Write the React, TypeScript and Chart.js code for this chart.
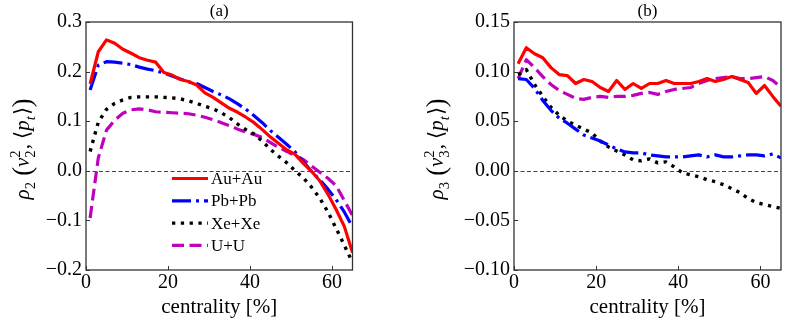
import React, { useEffect, useRef } from 'react';
import { Chart, registerables } from 'chart.js';

Chart.register(...registerables);

// ---------- data ----------
const centrality = [1, 3, 5, 7, 9, 11, 13, 15, 17, 19, 21, 23, 25, 27, 29, 31, 33, 35, 37, 39, 41, 43, 45, 47, 49, 51, 53, 55, 57, 59, 61, 63, 65];

const seriesLabels = ['Au+Au', 'Pb+Pb', 'Xe+Xe', 'U+U'];

// panel (a): rho2(v2^2, <pt>)
const rho2AuAu = [0.175, 0.240, 0.264, 0.257, 0.245, 0.237, 0.228, 0.223, 0.219, 0.198, 0.193, 0.184, 0.180, 0.173, 0.157, 0.148, 0.137, 0.126, 0.118, 0.108, 0.097, 0.083, 0.068, 0.055, 0.042, 0.033, 0.015, -0.001, -0.020, -0.047, -0.078, -0.112, -0.165];
const rho2PbPb = [0.163, 0.213, 0.220, 0.219, 0.217, 0.214, 0.209, 0.205, 0.202, 0.197, 0.191, 0.185, 0.179, 0.176, 0.168, 0.160, 0.153, 0.145, 0.135, 0.124, 0.111, 0.097, 0.081, 0.067, 0.053, 0.038, 0.018, -0.001, -0.018, -0.037, -0.058, -0.083, -0.113];
const rho2XeXe = [0.039, 0.098, 0.124, 0.136, 0.143, 0.148, 0.149, 0.149, 0.149, 0.148, 0.147, 0.145, 0.141, 0.136, 0.130, 0.125, 0.117, 0.107, 0.094, 0.083, 0.074, 0.060, 0.043, 0.029, 0.016, 0.000, -0.014, -0.033, -0.055, -0.083, -0.116, -0.150, -0.185];
const rho2UU = [-0.095, 0.026, 0.082, 0.102, 0.116, 0.123, 0.125, 0.123, 0.119, 0.118, 0.117, 0.116, 0.115, 0.112, 0.108, 0.103, 0.097, 0.091, 0.084, 0.078, 0.073, 0.067, 0.057, 0.047, 0.039, 0.030, 0.023, 0.010, -0.003, -0.015, -0.030, -0.060, -0.090];

// panel (b): rho3(v3^2, <pt>)
const rho3AuAu = [0.108, 0.124, 0.118, 0.114, 0.104, 0.097, 0.096, 0.088, 0.092, 0.090, 0.084, 0.080, 0.091, 0.082, 0.088, 0.083, 0.088, 0.088, 0.091, 0.088, 0.088, 0.088, 0.090, 0.093, 0.090, 0.092, 0.095, 0.092, 0.089, 0.078, 0.086, 0.075, 0.065];
const rho3PbPb = [0.093, 0.092, 0.083, 0.071, 0.061, 0.053, 0.048, 0.042, 0.036, 0.033, 0.030, 0.026, 0.022, 0.019, 0.018, 0.018, 0.016, 0.015, 0.014, 0.014, 0.014, 0.015, 0.016, 0.014, 0.016, 0.014, 0.014, 0.015, 0.016, 0.016, 0.015, 0.017, 0.013];
const rho3XeXe = [0.097, 0.102, 0.087, 0.075, 0.064, 0.056, 0.050, 0.046, 0.042, 0.038, 0.030, 0.024, 0.020, 0.016, 0.011, 0.010, 0.012, 0.008, 0.009, 0.004, -0.002, -0.004, -0.006, -0.009, -0.011, -0.014, -0.018, -0.022, -0.028, -0.032, -0.034, -0.036, -0.038];
const rho3UU = [0.093, 0.112, 0.104, 0.095, 0.087, 0.081, 0.077, 0.073, 0.072, 0.074, 0.075, 0.074, 0.075, 0.075, 0.076, 0.078, 0.079, 0.077, 0.080, 0.082, 0.083, 0.084, 0.088, 0.091, 0.093, 0.094, 0.095, 0.093, 0.093, 0.094, 0.095, 0.091, 0.084];

const xTicks = [0, 20, 40, 60];
const yTicksA = [-0.2, -0.1, 0.0, 0.1, 0.2, 0.3];
const yTicksB = [-0.10, -0.05, 0.0, 0.05, 0.10, 0.15];

// ---------- styles ----------
const FONT = '"Liberation Serif", "Times New Roman", serif';
const seriesStyles = [
  { color: '#ff0000', dash: [] as number[], width: 3.2 },
  { color: '#0000ff', dash: [19, 5, 3, 5], width: 3.2 },
  { color: '#000000', dash: [3.3, 5.5], width: 3.4 },
  { color: '#bf00bf', dash: [12, 5.5], width: 3.2 },
];

type Seg = { t?: string; it?: boolean; sub?: boolean; sup?: boolean; big?: boolean; stack?: [string, string] };

function fmt(v: number, d: number) {
  if (Math.abs(v) < 1e-9) v = 0;
  const s = Math.abs(v).toFixed(d);
  return v < 0 ? '\u2212' + s : s;
}

function drawRich(ctx: CanvasRenderingContext2D, segs: Seg[], cx: number, cy: number, size: number) {
  const f = (it: boolean | undefined, s: number) => `${it ? 'italic ' : ''}${s}px ${FONT}`;
  const small = size * 0.7;
  const widths = segs.map((s) => {
    if (s.stack) {
      ctx.font = f(false, small);
      return Math.max(ctx.measureText(s.stack[0]).width, ctx.measureText(s.stack[1]).width) + 1;
    }
    const sz = s.sub || s.sup ? small : s.big ? size * 1.25 : size;
    ctx.font = f(s.it, sz);
    return ctx.measureText(s.t || '').width + (s.sub ? 1 : 0);
  });
  const total = widths.reduce((a, b) => a + b, 0);
  ctx.save();
  ctx.translate(cx, cy);
  ctx.rotate(-Math.PI / 2);
  ctx.fillStyle = '#000';
  ctx.textBaseline = 'alphabetic';
  ctx.textAlign = 'left';
  let x = -total / 2;
  const base = size * 0.33;
  segs.forEach((s, i) => {
    if (s.stack) {
      ctx.font = f(false, small);
      ctx.fillText(s.stack[0], x, base - size * 0.42);
      ctx.fillText(s.stack[1], x, base + size * 0.27);
    } else if (s.sub) {
      ctx.font = f(s.it, small);
      ctx.fillText(s.t || '', x, base + size * 0.27);
    } else if (s.sup) {
      ctx.font = f(s.it, small);
      ctx.fillText(s.t || '', x, base - size * 0.42);
    } else if (s.big) {
      ctx.font = f(s.it, size * 1.25);
      ctx.fillText(s.t || '', x, base + size * 0.08);
    } else {
      ctx.font = f(s.it, size);
      ctx.fillText(s.t || '', x, base);
    }
    x += widths[i];
  });
  ctx.restore();
}

const titleA: Seg[] = [
  { t: '\u03c1', it: true }, { t: '2', sub: true }, { t: ' ' }, { t: '(', big: true }, { t: 'v', it: true },
  { stack: ['2', '2'] }, { t: ', \u27e8' }, { t: 'p', it: true }, { t: 't', it: true, sub: true }, { t: '\u27e9' }, { t: ')', big: true },
];
const titleB: Seg[] = [
  { t: '\u03c1', it: true }, { t: '3', sub: true }, { t: ' ' }, { t: '(', big: true }, { t: 'v', it: true },
  { stack: ['2', '3'] }, { t: ', \u27e8' }, { t: 'p', it: true }, { t: 't', it: true, sub: true }, { t: '\u27e9' }, { t: ')', big: true },
];

function makeChart(
  canvas: HTMLCanvasElement,
  series: number[][],
  yMin: number,
  yMax: number,
  yTicks: number[],
  decimals: number,
  yAxisWidth: number,
  padRight: number,
  panelLabel: string,
  yTitle: Seg[],
  yTitleX: number,
  showLegend: boolean,
) {
  const decor = {
    id: 'decor' + panelLabel,
    beforeDatasetsDraw(chart: any) {
      const { ctx, chartArea: a } = chart;
      const ys = chart.scales.y;
      const y0 = Math.round(ys.getPixelForValue(0)) + 0.5;
      ctx.save();
      ctx.strokeStyle = '#444';
      ctx.lineWidth = 1;
      ctx.setLineDash([4, 2.5]);
      ctx.beginPath();
      ctx.moveTo(a.left, y0);
      ctx.lineTo(a.right, y0);
      ctx.stroke();
      ctx.restore();
    },
    afterDraw(chart: any) {
      const { ctx, chartArea: a } = chart;
      const xs = chart.scales.x;
      const ys = chart.scales.y;
      ctx.save();
      ctx.strokeStyle = '#333';
      ctx.lineWidth = 1.3;
      ctx.setLineDash([]);
      ctx.strokeRect(a.left, a.top, a.right - a.left, a.bottom - a.top);
      ctx.lineWidth = 1;
      ctx.beginPath();
      xTicks.forEach((v) => {
        const px = Math.round(xs.getPixelForValue(v)) + 0.5;
        ctx.moveTo(px, a.bottom);
        ctx.lineTo(px, a.bottom - 4);
      });
      yTicks.forEach((v) => {
        const py = Math.round(ys.getPixelForValue(v)) + 0.5;
        ctx.moveTo(a.left, py);
        ctx.lineTo(a.left + 4, py);
      });
      ctx.stroke();
      // panel label
      ctx.fillStyle = '#000';
      ctx.font = `17px ${FONT}`;
      ctx.textAlign = 'center';
      ctx.textBaseline = 'middle';
      ctx.fillText(panelLabel, (a.left + a.right) / 2, 12);
      // y title
      drawRich(ctx, yTitle, yTitleX, (a.top + a.bottom) / 2 + 3, 21);
      // legend
      if (showLegend) {
        chart.data.datasets.forEach((ds: any, i: number) => {
          const y = 178.5 + 22.3 * i;
          ctx.strokeStyle = ds.borderColor;
          ctx.lineWidth = ds.borderWidth;
          ctx.setLineDash(ds.borderDash || []);
          ctx.lineCap = 'butt';
          ctx.beginPath();
          ctx.moveTo(172, y);
          ctx.lineTo(208, y);
          ctx.stroke();
          ctx.setLineDash([]);
          ctx.fillStyle = '#000';
          ctx.font = `17px ${FONT}`;
          ctx.textAlign = 'left';
          ctx.textBaseline = 'middle';
          ctx.fillText(ds.label, 211, y + 1);
        });
      }
      ctx.restore();
    },
  };

  return new Chart(canvas, {
    type: 'line',
    data: {
      datasets: series.map((arr, i) => ({
        label: seriesLabels[i],
        data: centrality.map((c, k) => ({ x: c, y: arr[k] })),
        borderColor: seriesStyles[i].color,
        backgroundColor: seriesStyles[i].color,
        borderWidth: seriesStyles[i].width,
        borderDash: seriesStyles[i].dash,
        borderCapStyle: 'butt',
        borderJoinStyle: 'round',
        pointRadius: 0,
        tension: 0,
        fill: false,
      })),
    },
    options: {
      responsive: false,
      animation: false,
      devicePixelRatio: 1,
      layout: { padding: { left: 0, top: 22, right: padRight, bottom: 0 } },
      plugins: { legend: { display: false }, tooltip: { enabled: false }, title: { display: false } },
      scales: {
        x: {
          type: 'linear',
          min: 0,
          max: 65,
          afterBuildTicks: (s: any) => { s.ticks = xTicks.map((v) => ({ value: v })); },
          afterFit: (s: any) => { s.height = 55; },
          grid: { display: false, drawTicks: false },
          border: { display: false },
          ticks: {
            color: '#000',
            font: { family: FONT, size: 20 },
            padding: 1,
            maxRotation: 0,
            autoSkip: false,
            callback: (v: any) => String(v),
          },
          title: {
            display: true,
            text: 'centrality [%]',
            color: '#000',
            font: { family: FONT, size: 21 },
            padding: { top: 0, bottom: 5 },
          },
        },
        y: {
          type: 'linear',
          min: yMin,
          max: yMax,
          afterBuildTicks: (s: any) => { s.ticks = yTicks.map((v) => ({ value: v })); },
          afterFit: (s: any) => { s.width = yAxisWidth; },
          grid: { display: false, drawTicks: false },
          border: { display: false },
          ticks: {
            color: '#000',
            font: { family: FONT, size: 20 },
            padding: 4,
            autoSkip: false,
            callback: (v: any) => fmt(Number(v), decimals),
          },
        },
      },
    },
    plugins: [decor],
  } as any);
}

export default function App() {
  const leftRef = useRef<HTMLCanvasElement>(null);
  const rightRef = useRef<HTMLCanvasElement>(null);

  useEffect(() => {
    const a = makeChart(leftRef.current!, [rho2AuAu, rho2PbPb, rho2XeXe, rho2UU], -0.2, 0.3, yTicksA, 1, 86, 42.5, '(a)', titleA, 22, true);
    const b = makeChart(rightRef.current!, [rho3AuAu, rho3PbPb, rho3XeXe, rho3UU], -0.1, 0.15, yTicksB, 2, 119, 8, '(b)', titleB, 41, false);
    return () => {
      a.destroy();
      b.destroy();
    };
  }, []);

  return (
    <div style={{ position: 'fixed', left: 0, top: 0, width: 789, height: 325, background: '#fff' }}>
      <canvas ref={leftRef} width={395} height={325} style={{ position: 'absolute', left: 0, top: 0, width: 395, height: 325 }} />
      <canvas ref={rightRef} width={394} height={325} style={{ position: 'absolute', left: 395, top: 0, width: 394, height: 325 }} />
    </div>
  );
}
